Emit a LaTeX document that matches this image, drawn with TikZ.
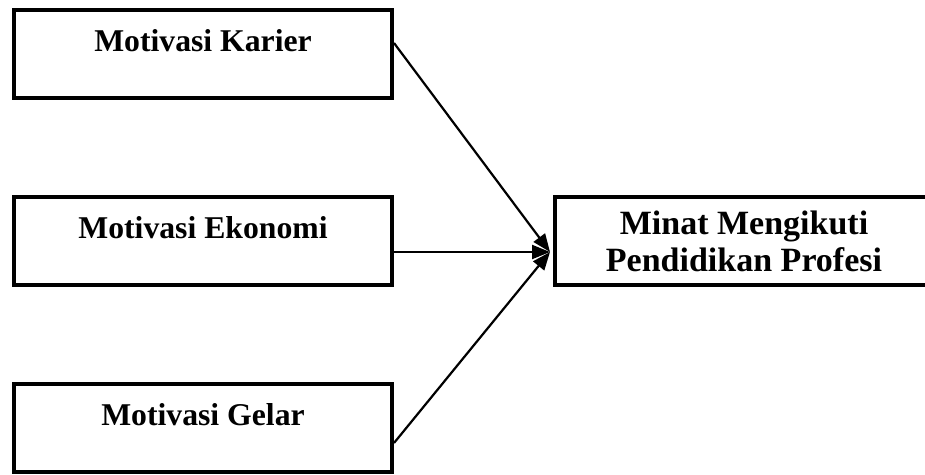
\documentclass[tikz,border=0pt]{standalone}
\usepackage{fontspec}
\setmainfont{Liberation Serif}
\usetikzlibrary{arrows.meta}

\begin{document}
\begin{tikzpicture}[x=0.5pt,y=-0.5pt,
 kotak/.style={draw,line width=2pt,minimum width=189pt,minimum height=44pt,font=\fontsize{15.85}{19}\selectfont\bfseries,text height=11pt,text depth=13.5pt},
 kotakdua/.style={draw,line width=2pt,minimum width=189pt,minimum height=44pt,font=\fontsize{17}{18.5}\selectfont\bfseries,align=center},
 panah/.style={line width=1.1pt,-{Triangle[length=9pt,width=7pt]}}]
 \useasboundingbox (0,0) rectangle (925,475);
 \node[kotak] (karier) at (203,54.5) {Motivasi Karier};
 \node[kotak] (ekonomi) at (203,241.5) {Motivasi Ekonomi};
 \node[kotak] (gelar) at (203,427.5) {Motivasi Gelar};
 \node[kotakdua] (minat) at (744,241.5) {Minat Mengikuti\\Pendidikan Profesi};
 \coordinate (masuk) at ([xshift=-1.5pt,yshift=-5.25pt]minat.west);
 \draw[panah] ([yshift=5.75pt]karier.east) -- (masuk);
 \draw[panah] ([yshift=-5.25pt]ekonomi.east) -- (masuk);
 \draw[panah] ([yshift=-7.75pt]gelar.east) -- (masuk);
\end{tikzpicture}
\end{document}
